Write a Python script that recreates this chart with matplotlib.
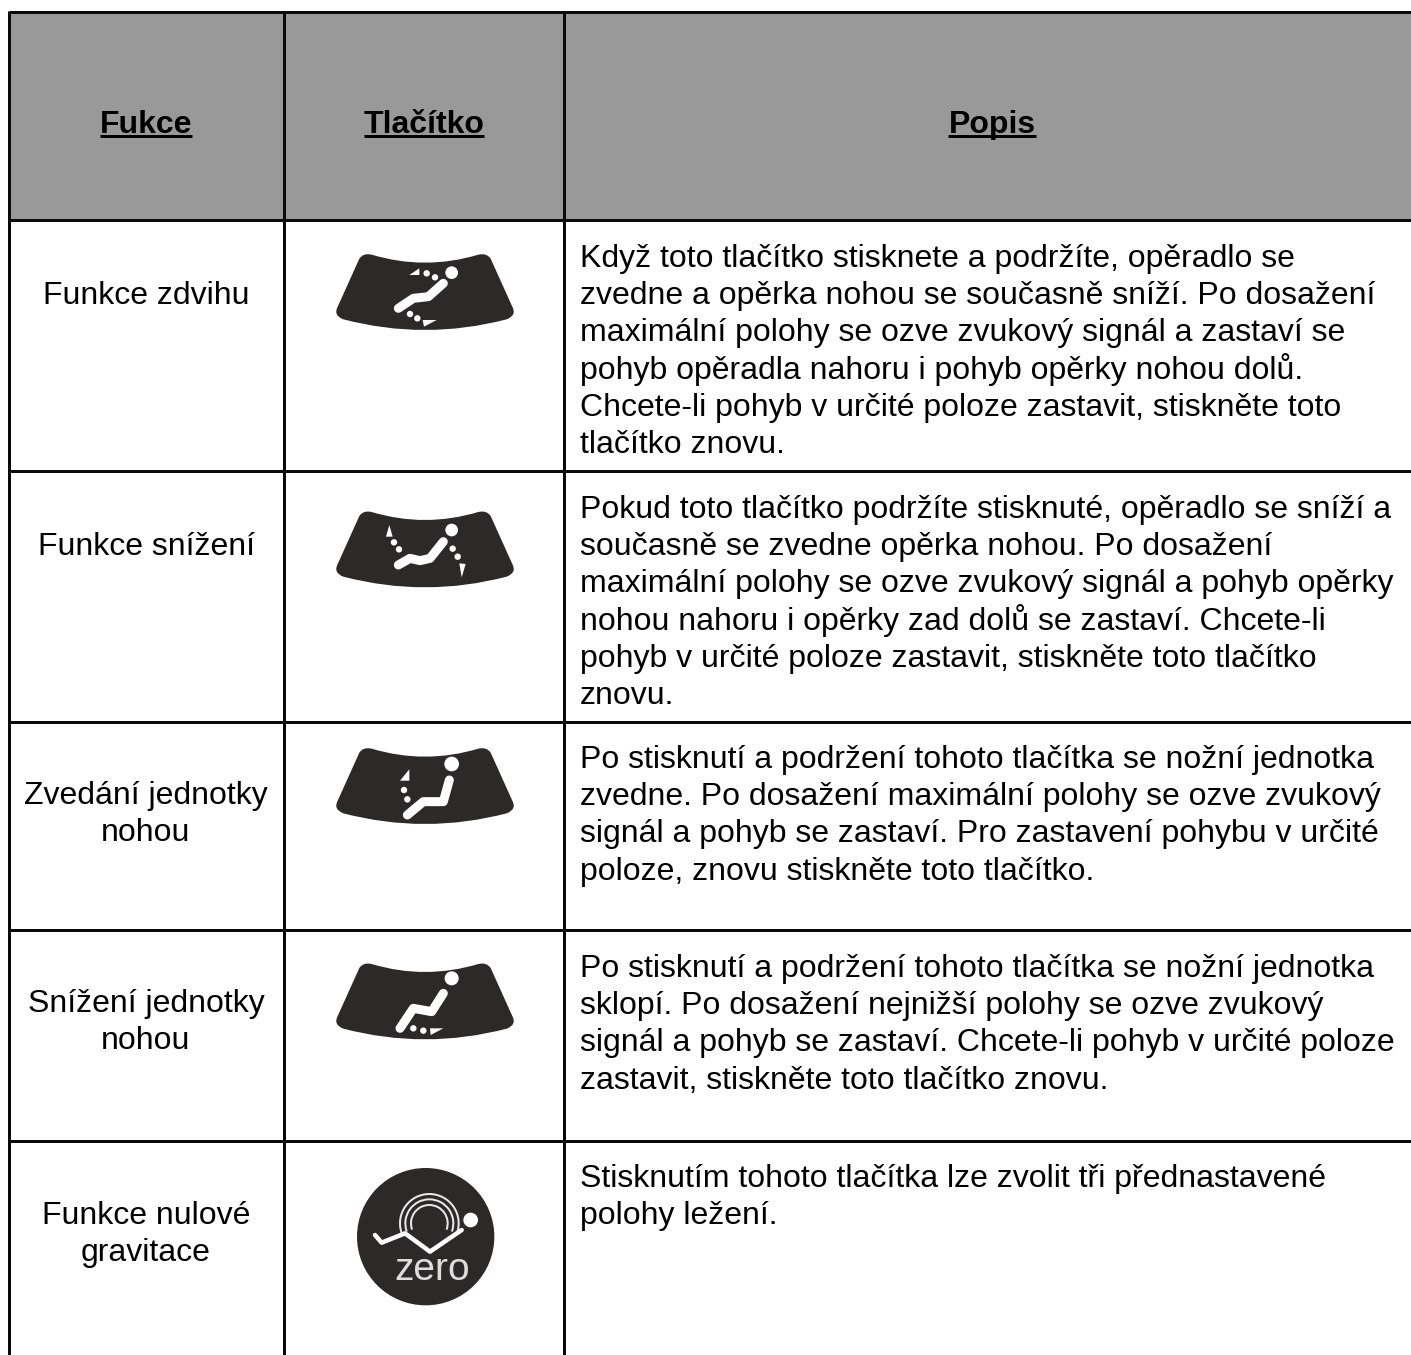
import matplotlib
matplotlib.use("Agg")
import matplotlib.pyplot as plt
from matplotlib.patches import Circle, Arc, Polygon, PathPatch, Rectangle
from matplotlib.path import Path

plt.rcParams['font.family'] = ['Liberation Sans', 'DejaVu Sans']

headers = ["Fukce", "Tlačítko", "Popis"]
functions = [
    ["Funkce zdvihu"],
    ["Funkce snížení"],
    ["Zvedání jednotky", "nohou"],
    ["Snížení jednotky", "nohou"],
    ["Funkce nulové", "gravitace"],
]
descriptions = [
    ["Když toto tlačítko stisknete a podržíte, opěradlo se",
     "zvedne a opěrka nohou se současně sníží. Po dosažení",
     "maximální polohy se ozve zvukový signál a zastaví se",
     "pohyb opěradla nahoru i pohyb opěrky nohou dolů.",
     "Chcete-li pohyb v určité poloze zastavit, stiskněte toto",
     "tlačítko znovu."],
    ["Pokud toto tlačítko podržíte stisknuté, opěradlo se sníží a",
     "současně se zvedne opěrka nohou. Po dosažení",
     "maximální polohy se ozve zvukový signál a pohyb opěrky",
     "nohou nahoru i opěrky zad dolů se zastaví. Chcete-li",
     "pohyb v určité poloze zastavit, stiskněte toto tlačítko",
     "znovu."],
    ["Po stisknutí a podržení tohoto tlačítka se nožní jednotka",
     "zvedne. Po dosažení maximální polohy se ozve zvukový",
     "signál a pohyb se zastaví. Pro zastavení pohybu v určité",
     "poloze, znovu stiskněte toto tlačítko."],
    ["Po stisknutí a podržení tohoto tlačítka se nožní jednotka",
     "sklopí. Po dosažení nejnižší polohy se ozve zvukový",
     "signál a pohyb se zastaví. Chcete-li pohyb v určité poloze",
     "zastavit, stiskněte toto tlačítko znovu."],
    ["Stisknutím tohoto tlačítka lze zvolit tři přednastavené",
     "polohy ležení."],
]

W, H = 1411, 1355
FS = 23
PITCH = 37.2
DARK = "#2b2a29"
LINE = "#0a0a0a"
TEXT = "#000000"
px = 72 / 100  # one pixel in points

col_x = [9, 284, 564]
row_y = [12, 220, 471, 722, 930, 1141]
col_mid = [146, 424, 992]
first_base = [267, 518, 768, 977, 1187]
func_base = [[304], [555], [804, 841], [1012, 1049], [1224, 1261]]

# icon shapes, in units of the 3x crop
fan_y = [0, 22, 12, -32]
fan_org = [(300, 240), (300, 490), (300, 730), (300, 960)]
bodies = [
    [(295, 205), (340, 175), (385, 170), (430, 130)],
    [(295, 225), (330, 205), (360, 212), (390, 205), (430, 155)],
    [(322, 255), (370, 215), (430, 215), (448, 150)],
    [(300, 205), (340, 145), (395, 155), (430, 100)],
]
heads = [(455, 98, 19), (455, 120, 19), (455, 102, 22), (455, 55, 21)]
dots = [
    [(380, 100), (405, 112), (330, 222), (352, 235)],
    [(282, 157), (297, 178), (458, 176), (473, 200)],
    [(312, 180), (322, 208)],
    [(340, 205), (370, 212)],
]
arrows = [
    [[(328, 105), (358, 85), (358, 105)], [(368, 240), (410, 240), (372, 260)]],
    [[(268, 105), (258, 140), (278, 140)], [(478, 220), (497, 222), (485, 262)]],
    [[(328, 118), (300, 152), (328, 152)]],
    [[(390, 205), (430, 205), (392, 225)]],
]

fig = plt.figure(figsize=(W / 100, H / 100), dpi=100)
ax = fig.add_axes([0, 0, 1, 1])
ax.set_xlim(0, W)
ax.set_ylim(H, 0)
ax.axis('off')

ax.add_patch(Rectangle((col_x[0], row_y[0]), W - col_x[0], row_y[1] - row_y[0],
                       color="#999999", lw=0))

for y in row_y:
    ax.plot([col_x[0], W], [y, y], color=LINE, lw=3 * px, solid_capstyle='butt')
for x in col_x:
    ax.plot([x, x], [row_y[0] - 1.5, H], color=LINE, lw=3 * px, solid_capstyle='butt')

# header with underline
fig.canvas.draw()
renderer = fig.canvas.get_renderer()
for name, x in zip(headers, col_mid):
    t = ax.text(x, 133, name, fontsize=FS, fontweight='bold', ha='center',
                va='baseline', color=TEXT)
    bb = t.get_window_extent(renderer)
    ax.plot([bb.x0, bb.x1], [136, 136], color=TEXT, lw=3 * px,
            solid_capstyle='butt')

for lines, bases in zip(functions, func_base):
    for line, y in zip(lines, bases):
        ax.text(col_mid[0], y, line, fontsize=FS, ha='center', va='baseline', color=TEXT)

for lines, y0 in zip(descriptions, first_base):
    for i, line in enumerate(lines):
        ax.text(580, y0 + i * PITCH, line, fontsize=FS, ha='left', va='baseline', color=TEXT)


def fan(ox, oy, dy):
    def p(u, v):
        return (ox + u / 3, oy + (v + dy) / 3)
    verts = [p(178, 56), p(190, 38), p(215, 44),
             p(375, 92), p(535, 44),
             p(560, 38), p(572, 56),
             p(636, 198),
             p(652, 226), p(620, 238),
             p(375, 302), p(130, 238),
             p(98, 226), p(114, 198),
             p(178, 56)]
    codes = [Path.MOVETO, Path.CURVE3, Path.CURVE3,
             Path.CURVE3, Path.CURVE3,
             Path.CURVE3, Path.CURVE3,
             Path.LINETO,
             Path.CURVE3, Path.CURVE3,
             Path.CURVE3, Path.CURVE3,
             Path.CURVE3, Path.CURVE3,
             Path.CLOSEPOLY]
    ax.add_patch(PathPatch(Path(verts, codes), facecolor=DARK, edgecolor='none'))


for k, (ox, oy) in enumerate(fan_org):
    fan(ox, oy, fan_y[k])
    xs = [ox + u / 3 for u, v in bodies[k]]
    ys = [oy + v / 3 for u, v in bodies[k]]
    ax.plot(xs, ys, color='white', lw=9 * px, solid_capstyle='round', solid_joinstyle='round')
    hu, hv, hr = heads[k]
    ax.add_patch(Circle((ox + hu / 3, oy + hv / 3), hr / 3, color='white', lw=0))
    for u, v in dots[k]:
        ax.add_patch(Circle((ox + u / 3, oy + v / 3), 3.2, color='white', lw=0))
    for tri in arrows[k]:
        ax.add_patch(Polygon([(ox + u / 3, oy + v / 3) for u, v in tri], color='white', lw=0))

# zero gravity icon
zx, zy = 340, 1170
ax.add_patch(Circle((zx + 257 / 3, zy + 200 / 3), 206 / 3, color=DARK, lw=0))
for r in [88, 72, 55]:
    ax.add_patch(Arc((zx + 268 / 3, zy + 160 / 3), 2 * r / 3, 2 * r / 3, theta1=160, theta2=380,
                     color='#e8e8e8', lw=2 * px))
# y axis is inverted, so the arcs above open towards the bottom
chair_x = [zx + u / 3 for u in (105, 125, 195, 270, 365)]
chair_y = [zy + v / 3 for v in (195, 218, 190, 245, 180)]
ax.plot(chair_x, chair_y, color='white', lw=4.5 * px, solid_joinstyle='round', solid_capstyle='round')
ax.add_patch(Circle((zx + 392 / 3, zy + 150 / 3), 22 / 3, color='white', lw=0))
ax.text(zx + 277 / 3, zy + 329 / 3, "zero", fontsize=28, ha='center', va='baseline', color='#dddddd')

plt.savefig("out.png", dpi=100)
